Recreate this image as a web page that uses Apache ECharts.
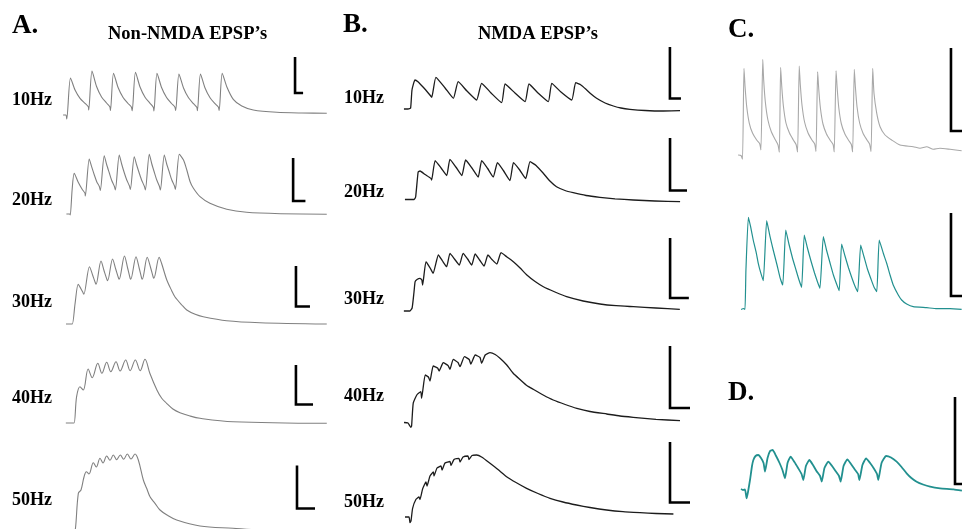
<!DOCTYPE html>
<html><head><meta charset="utf-8">
<script src="https://cdn.jsdelivr.net/npm/echarts@6/dist/echarts.min.js"></script>
<style>html,body{margin:0;padding:0;background:#fff}#c{width:962px;height:529px}</style>
</head><body><div id="c"></div>
<script>
// ---- text ----
const panelLetters = ['A.', 'B.', 'C.', 'D.'];
const panelTitles = ['Non-NMDA EPSP\u2019s', 'NMDA EPSP\u2019s'];
const rateLabels = ['10Hz', '20Hz', '30Hz', '40Hz', '50Hz'];

// ---- traces: [time (ms), membrane potential change (mV)] ----
const A10 = [[-18,0],[-5,0],[-1,-0.4],[16,3.7],[37,2.5],[60,1.67],[83,1.17],[98,0.83],[100,0.5],
 [115,4.4],[136,2.85],[159,1.8],[182,1.2],[197,0.82],[200,0.45],
 [214,4.17],[235,2.75],[258,1.75],[281,1.15],[296,0.8],[300,0.42],
 [315,4.27],[336,2.8],[359,1.78],[382,1.17],[397,0.78],[400,0.4],
 [414,4.17],[435,2.75],[458,1.75],[481,1.15],[496,0.8],[500,0.45],
 [515,4.1],[536,2.7],[559,1.72],[582,1.13],[597,0.78],[600,0.42],
 [614,4.1],[635,2.7],[658,1.72],[681,1.13],[696,0.8],[700,0.45],
 [714,4.17],[735,2.83],[765,1.57],[804,0.9],[857,0.5],[965,0.27],[1080,0.2],[1195,0.17]];
const A20 = [[-13,0],[-2,0],[0,-0.1],[6,2.4],[13,4.07],[26,3.2],[39,2.5],[49,2.07],[50,1.8],
 [63,5.5],[71,4.73],[80,3.9],[88,3.23],[97,2.73],[100,2.35],
 [113,5.83],[121,4.95],[130,4.1],[138,3.35],[147,2.75],[150,2.4],
 [163,5.9],[171,5.0],[180,4.1],[188,3.4],[197,2.8],[200,2.45],
 [213,5.73],[221,4.9],[230,4.05],[238,3.35],[247,2.75],[250,2.4],
 [263,5.97],[271,5.05],[280,4.15],[288,3.4],[297,2.75],[300,2.4],
 [313,5.9],[321,5.0],[330,4.15],[338,3.4],[347,2.8],[350,2.45],
 [363,5.97],[377,5.4],[388,4.4],[399,3.23],[410,2.57],[432,1.73],[465,1.07],[521,0.47],[587,0.17],[700,0.03],[854,-0.03]];
const A30 = [[-18,0],[-4,0],[0,0],[8,2.07],[17,3.97],[25,3.5],[31,3.1],[33,2.97],
 [49,5.73],[58,4.9],[66,4.1],[68,3.97],
 [82,6.3],[91,5.3],[99,4.45],[101,4.33],
 [115,6.5],[124,5.5],[132,4.6],[134,4.47],
 [149,6.8],[158,5.6],[165,4.6],[167,4.47],
 [182,6.73],[191,5.6],[198,4.6],[200,4.47],
 [214,6.67],[224,5.6],[231,4.7],[233,4.57],
 [248,6.67],[255,6.07],[270,4.4],[284,3.33],[293,2.73],[313,1.9],[327,1.4],[351,0.97],[374,0.73],[441,0.33],[536,0.13],[727,0]];
const A40 = [[-22,0],[-5,0],[0,0],[7,2.63],[16,3.63],[25,3.3],
 [38,5.4],[49,4.53],[64,5.97],[75,4.97],[88,6.07],[99,5.13],[113,6.13],[124,5.2],
 [139,6.3],[151,5.23],[165,6.3],[178,5.23],
 [191,6.37],[204,4.97],[223,3.3],[236,2.47],[249,1.97],[266,1.4],[285,1.03],[312,0.7],[339,0.47],[428,0.13],[680,-0.03]];
const A50 = [[-12,0],[-7.5,0.5],[1,3.97],[9,4.3],[18,5.6],[25,6.13],[33,5.9],[46,7.03],[55,6.6],[66,7.47],[75,7.0],
 [86,7.7],[96,7.27],[106,7.8],[116,7.33],[127,7.8],[137,7.37],[148,7.9],[159,7.4],[171,7.9],
 [181,7.3],[196,5.3],[206,4.47],[216,3.63],[231,2.97],[246,2.3],[267,1.8],[296,1.3],[366,0.7],[465,0.47],[546,0.3],[747,0.1]];

const B10 = [[-22,0],[-4,0],[7,0.1],[13,1.9],[26,2.9],[39,2.73],[61,2.2],[91,1.4],[99,1.17],
 [117,3.17],[157,2.1],[193,1.07],
 [214,2.73],[252,1.8],[294,0.9],
 [316,2.57],[357,1.6],[403,0.63],
 [418,2.5],[461,1.6],[505,0.73],
 [522,2.5],[561,1.6],[606,0.73],
 [621,2.57],[661,1.7],[708,0.9],
 [725,2.63],[748,2.4],[773,1.9],[792,1.5],[816,1.07],[853,0.6],[889,0.3],[922,0.1],[961,-0.03],[1027,-0.15],[1106,-0.2],[1179,-0.17]];
const B20 = [[-32,0],[-3,0],[2,0.25],[10,2.75],[16,2.85],[32,2.5],[51,2.1],[53,1.95],
 [64,3.88],[83,3.15],[101,2.4],
 [111,4.02],[130,3.25],[149,2.4],
 [161,3.95],[181,3.15],[201,2.25],
 [212,3.88],[231,3.1],[249,2.25],
 [262,3.68],[281,2.9],[302,1.9],
 [313,3.68],[333,2.95],[352,2.1],
 [366,3.78],[385,3.4],[408,2.62],[429,1.85],[450,1.28],[477,0.9],[503,0.68],[544,0.4],[588,0.22],[636,0.07],[694,-0.05],[763,-0.15],[843,-0.22]];
const B30 = [[-19,0],[-3,0],[3,0.3],[8,1.9],[11,2.93],[16,3.15],[24,3.27],[29,3.1],[31,2.6],
 [40,4.93],[51,4.3],[59,3.77],
 [73,5.6],[84,5.0],[95,4.43],
 [104,5.77],[116,5.2],[129,4.6],
 [139,5.77],[151,5.2],[162,4.6],
 [171,5.7],[183,5.1],[195,4.5],
 [205,5.6],[216,5.15],[229,4.7],
 [240,5.83],[256,5.4],[273,4.93],[291,4.3],[309,3.6],[331,2.95],[353,2.43],[384,1.9],[415,1.43],[459,1.0],[504,0.7],[547,0.53],[593,0.43],[653,0.3],[717,0.17]];
const B40 = [[-20,0.05],[-10,0],[-3,-0.43],[-1,-0.3],[3,1.97],[12,2.8],[22,3.13],[24,2.47],
 [33,4.8],[41,4.6],[45,4.2],
 [53,5.7],[64,5.5],[68,5.2],
 [78,6.03],[90,5.75],[95,5.37],
 [103,6.37],[115,6.05],[120,5.63],
 [131,6.63],[143,6.35],[147,5.9],
 [158,6.8],[170,6.55],[174,5.97],
 [183,6.8],[195,7.03],[208,6.85],[220,6.47],[237,5.8],[253,4.97],[270,4.35],[287,3.75],[303,3.37],[328,2.8],[353,2.3],[383,1.85],[412,1.47],[445,1.15],[487,0.9],[520,0.7],[553,0.57],[610,0.37],[670,0.23]];
const B50 = [[-15,0],[-5,0],[-2.5,-0.57],[0,-0.4],[4,0.87],[12.5,1.77],[20,2.0],[22.5,1.75],
 [29,2.8],[37.5,3.5],[40,3.1],[47.5,4.1],[56,4.5],[57.5,4.1],[65,4.9],[75,5.1],[77.5,4.7],
 [85,5.4],[97.5,5.55],[100,5.15],[107.5,5.75],[120,5.87],[122.5,5.5],[130,6.0],[142.5,6.1],[145,5.75],
 [152.5,6.15],[164,6.2],[177.5,5.97],[197.5,5.37],[217.5,4.75],[239,4.03],[262.5,3.45],[289,2.87],[317.5,2.35],
 [347.5,1.87],[380,1.5],[414,1.2],[447.5,0.95],[489,0.7],[530,0.53],[572.5,0.43],[612.5,0.35],[656,0.3]];

const C1 = [[-24,0],[-8,-0.05],[0,-0.43],[8,8.67],[14,6.83],[23,4.83],[37,3.17],[55,2.17],[77,1.5],[93,1.15],[100,0.5],
 [110,9.57],[115,7.5],[124,5.3],[138,3.5],[157,2.3],[179,1.5],[193,1.0],[200,0.27],
 [207,8.77],[213,6.9],[222,4.9],[236,3.2],[255,2.2],[276,1.5],[291,1.05],[299,0.3],
 [308,8.9],[314,7.0],[323,5.0],[337,3.3],[356,2.2],[377,1.5],[392,1.1],[399,0.35],
 [408,8.33],[414,6.6],[423,4.7],[437,3.1],[456,2.1],[477,1.45],[492,1.05],[498,0.3],
 [508,8.43],[514,6.7],[523,4.7],[537,3.1],[556,2.1],[577,1.45],[591,1.05],[598,0.3],
 [607,8.57],[613,6.8],[622,4.8],[636,3.2],[655,2.15],[676,1.5],[690,1.1],[698,0.35],
 [707,8.67],[714,6.17],[729,4.17],[747,2.83],[774,2.0],[810,1.5],[855,1.0],[927,0.83],[964,0.67],[1000,0.83],[1036,0.57],[1072,0.67],[1127,0.57],[1190,0.43]];
const C2 = [[-21,-0.05],[-8,0.05],[0,-0.05],[5,3.9],[18,9.17],[30,8.23],[44,6.9],[59,5.73],[71,4.57],[84,3.63],[98,2.83],
 [116,8.83],[134,7.23],[151,5.9],[170,4.5],[187,3.17],[202,2.4],
 [218,7.9],[235,6.5],[254,5.1],[273,3.9],[289,2.9],[303,2.17],
 [317,7.4],[334,6.1],[353,4.8],[372,3.6],[388,2.7],[401,2.07],
 [419,7.23],[436,5.9],[455,4.6],[473,3.4],[490,2.5],[504,1.83],
 [517,6.5],[535,5.3],[554,4.1],[572,3.1],[588,2.3],[603,1.73],
 [619,6.4],[637,5.2],[655,4.0],[674,3.0],[690,2.2],[705,1.73],
 [718,6.9],[740,5.57],[758,4.57],[776,3.4],[793,2.4],[820,1.4],[838,0.9],[865,0.5],[900,0.23],[972,0.13],[1026,0.03],[1097,0.03],[1159,-0.03]];
const D1 = [[-33,0.1],[-22,0],[-11,0.05],[-2,-0.83],[5.5,-0.2],[16.5,1.0],[27.5,2.4],[35,3.0],[47,3.4],[62,3.5],[77,3.2],[91,2.7],[99,1.83],
 [113,3.2],[127,3.9],[141,4.0],[160,3.4],[179,2.7],[195,2.0],[209,1.17],
 [223,2.7],[240,3.33],[261,2.8],[281,2.2],[300,1.6],[310,1.0],
 [324,2.4],[343,3.0],[363,2.5],[382,1.9],[402,1.4],[411,0.83],
 [426,2.2],[447,2.83],[468,2.4],[487,1.9],[506,1.4],[515,0.83],
 [531,2.4],[552,3.07],[572,2.6],[591,2.1],[611,1.6],[618,1.0],
 [635,2.5],[655,3.17],[677,2.7],[696,2.2],[715,1.6],[722,1.0],
 [740,2.7],[765,3.4],[792,3.25],[823,2.83],[850,2.3],[878,1.67],[904,1.2],[933,0.83],[968,0.55],[1007,0.33],[1062,0.17],[1136,0.07],[1182,-0.07]];

// ---- scale bars: [time (ms), mV] corner points ----
const barA10 = [[1049,5.8],[1049,2.2],[1086,2.2]];
const barA20 = [[742,5.6],[742,1.3],[783,1.3]];
const barA30 = [[639,5.8],[639,1.75],[679,1.75]];
const barA40 = [[597,5.8],[597,1.85],[643,1.85]];
const barA50 = [[657,6.75],[657,2.45],[711,2.45]];
const barB10 = [[1135,6.2],[1135,1.05],[1183,1.05]];
const barB20 = [[811,6.15],[811,0.9],[865,0.9]];
const barB30 = [[691,7.3],[691,1.3],[741,1.3]];
const barB40 = [[645,7.7],[645,1.5],[695,1.5]];
const barB50 = [[647.5,7.5],[647.5,1.45],[697.5,1.45]];
const barC1 = [[1132,10.7],[1132,2.4],[1220,2.4]];
const barC2 = [[1102,9.6],[1102,1.3],[1190,1.3]];
const barD1 = [[1144,9.3],[1144,0.6],[1220,0.6]];

// ---- layout (pixel placement of each trace's axes) ----
const W = 962, H = 529;
const GRAY = '#808080', DARK = '#1c1c1c', LIGHT = '#a8a8a8', TEAL = '#22908f';
const traces = [
  {data:A10, bar:barA10, gl:55, gr:340, xs:67,   y0:115,   k:4.6,   color:GRAY, lw:1.1, sm:0.25},
  {data:A20, bar:barA20, gl:55, gr:340, xs:70.3, y0:214,   k:3.33,  color:GRAY, lw:1.1, sm:0.25},
  {data:A30, bar:barA30, gl:55, gr:340, xs:72.3, y0:324,   k:2.857, color:GRAY, lw:1.1, sm:0.3},
  {data:A40, bar:barA40, gl:55, gr:340, xs:74,   y0:423,   k:2.69,  color:GRAY, lw:1.1, sm:0.35},
  {data:A50, bar:barA50, gl:55, gr:340, xs:78,   y0:533,   k:3.0,   color:GRAY, lw:1.1, sm:0.35},
  {data:B10, bar:barB10, gl:395, gr:700, xs:409, y0:109,   k:4.35,  color:DARK, lw:1.3, sm:0.15},
  {data:B20, bar:barB20, gl:395, gr:700, xs:415, y0:199.5, k:3.18,  color:DARK, lw:1.3, sm:0.15},
  {data:B30, bar:barB30, gl:395, gr:700, xs:411, y0:311,   k:2.667, color:DARK, lw:1.3, sm:0.15},
  {data:B40, bar:barB40, gl:395, gr:700, xs:412, y0:423,   k:2.5,   color:DARK, lw:1.3, sm:0.15},
  {data:B50, bar:barB50, gl:395, gr:700, xs:411, y0:517,   k:2.5,   color:DARK, lw:1.3, sm:0.15},
  {data:C1,  bar:barC1,  gl:730, gr:960, xs:742.5, y0:155, k:5.43,  color:LIGHT, lw:1.1, sm:0.2},
  {data:C2,  bar:barC2,  gl:730, gr:960, xs:745, y0:309,   k:5.35,  color:TEAL, lw:1.2, sm:0.15},
  {data:D1,  bar:barD1,  gl:730, gr:960, xs:747, y0:490,   k:5.5,   color:TEAL, lw:1.8, sm:0.15}
];
const MV_PER_PX = 0.1;

const grids = [], xAxes = [], yAxes = [], series = [];
traces.forEach((tr, i) => {
  const gt = Math.max(0, tr.y0 - 115), gb = Math.min(H, tr.y0 + 25);
  grids.push({left: tr.gl, top: gt, width: tr.gr - tr.gl, height: gb - gt, show: false});
  xAxes.push({type:'value', gridIndex:i, show:false, min:(tr.gl - tr.xs) * tr.k, max:(tr.gr - tr.xs) * tr.k});
  yAxes.push({type:'value', gridIndex:i, show:false, min:(tr.y0 - gb) * MV_PER_PX, max:(tr.y0 - gt) * MV_PER_PX});
  series.push({type:'line', xAxisIndex:i, yAxisIndex:i, data:tr.data, symbol:'none', clip:false, silent:true,
    smooth:tr.sm,
    lineStyle:{color:tr.color, width:tr.lw, join:'round'}});
  series.push({type:'line', xAxisIndex:i, yAxisIndex:i, data:tr.bar, symbol:'none', clip:false, silent:true,
    lineStyle:{color:'#000', width:2.6, cap:'butt', join:'miter'}});
});

const FONT = '"Liberation Serif", "Times New Roman", serif';
function txt(s, x, y, size) {
  return {type:'text', x:x, y:y, silent:true,
    style:{text:s, fill:'#000', font:'bold ' + size + 'px ' + FONT, align:'left', verticalAlign:'middle'}};
}
const aLabelY = [100, 200, 302, 398, 500];
const bLabelY = [98.5, 192.5, 299, 396, 502.5];
const graphics = [
  txt(panelLetters[0], 12, 26.5, 27),
  txt(panelTitles[0], 108, 34, 18.5),
  txt(panelLetters[1], 343, 25.5, 27),
  txt(panelTitles[1], 478, 34, 18.5),
  txt(panelLetters[2], 728, 30, 27),
  txt(panelLetters[3], 728, 393, 27)
];
rateLabels.forEach((r, i) => {
  graphics.push(txt(r, 12, aLabelY[i], 18));
  graphics.push(txt(r, 344, bLabelY[i], 18));
});

const chart = echarts.init(document.getElementById('c'), null, {renderer:'canvas'});
chart.setOption({
  animation:false,
  backgroundColor:'#fff',
  grid:grids, xAxis:xAxes, yAxis:yAxes, series:series,
  graphic:graphics
});
</script></body></html>
